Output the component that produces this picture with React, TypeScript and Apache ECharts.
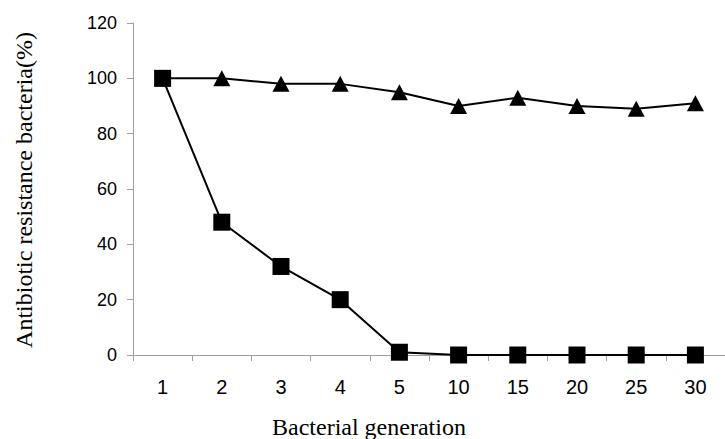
import React, { useEffect, useRef } from "react";
import * as echarts from "echarts";

const categories = ["1", "2", "3", "4", "5", "10", "15", "20", "25", "30"];
const triangleSeries = [100, 100, 98, 98, 95, 90, 93, 90, 89, 91];
const squareSeries = [100, 48, 32, 20, 1, 0, 0, 0, 0, 0];
const yTicks = { min: 0, max: 120, interval: 20 };
const xTitle = "Bacterial generation";
const yTitle = "Antibiotic resistance bacteria(%)";

export default function App() {
  const ref = useRef<HTMLDivElement>(null);
  useEffect(() => {
    if (!ref.current) return;
    const chart = echarts.init(ref.current, null, { renderer: "svg" });
    const axisColor = "#a0a0a0";
    chart.setOption({
      animation: false,
      backgroundColor: "#ffffff",
      grid: { left: 133, right: -8, top: 23, bottom: 84, containLabel: false },
      xAxis: {
        type: "category",
        data: categories,
        boundaryGap: true,
        axisLine: { lineStyle: { color: axisColor, width: 1 } },
        axisTick: { show: true, inside: false, length: 6, alignWithLabel: false, lineStyle: { color: axisColor } },
        axisLabel: { color: "#000", fontFamily: "Liberation Sans, Arial", fontSize: 20, margin: 22 },
        splitLine: { show: false },
      },
      yAxis: {
        type: "value",
        min: yTicks.min,
        max: yTicks.max,
        interval: yTicks.interval,
        axisLine: { show: true, lineStyle: { color: axisColor, width: 1 } },
        axisTick: { show: true, inside: false, length: 6, lineStyle: { color: axisColor } },
        axisLabel: { color: "#000", fontFamily: "Liberation Sans, Arial", fontSize: 18, margin: 16 },
        splitLine: { show: false },
      },
      graphic: [
        {
          type: "text",
          left: 272,
          top: 415,
          style: { text: xTitle, font: "24px 'Liberation Serif', 'Times New Roman', serif", fill: "#000" },
        },
        {
          type: "text",
          x: 24,
          y: 190,
          rotation: Math.PI / 2,
          style: {
            text: yTitle,
            font: "24px 'Liberation Serif', 'Times New Roman', serif",
            fill: "#000",
            align: "center",
            verticalAlign: "middle",
          },
        },
      ],
      series: [
        {
          type: "line",
          data: triangleSeries,
          symbol: "triangle",
          symbolSize: [17, 16],
          showAllSymbol: true,
          lineStyle: { color: "#000", width: 2 },
          itemStyle: { color: "#000", borderWidth: 0 },
          z: 2,
        },
        {
          type: "line",
          data: squareSeries,
          symbol: "rect",
          symbolSize: 17,
          showAllSymbol: true,
          lineStyle: { color: "#000", width: 2 },
          itemStyle: { color: "#000", borderWidth: 0 },
          z: 3,
        },
      ],
    });
    return () => chart.dispose();
  }, []);
  return <div ref={ref} style={{ width: 725, height: 439, position: "fixed", left: 0, top: 0 }} />;
}
